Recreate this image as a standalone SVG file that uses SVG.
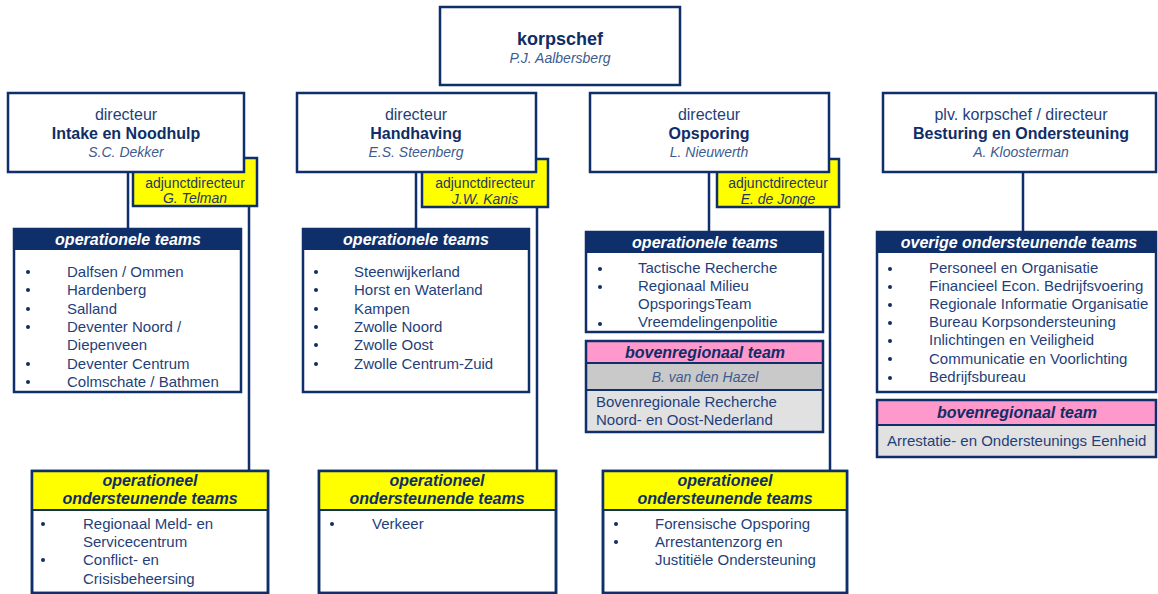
<svg xmlns="http://www.w3.org/2000/svg" width="1158" height="594" viewBox="0 0 1158 594">
<style>
text{font-family:"Liberation Sans",Arial,sans-serif}
.box{fill:#fff;stroke:#0e2f6a;stroke-width:2.5}
.frame{fill:none;stroke:#0e2f6a;stroke-width:2.5}
.yel{fill:#ffff00;stroke:#0e2f6a;stroke-width:2.5}
.hdr{fill:#0e2f6a}
.yhdr{fill:#ffff00}
.pink{fill:#ff99cc}
.g1{fill:#c9c9c9}
.g2{fill:#e1e1e1}
.sep{stroke:#0e2f6a;stroke-width:2}
.ln{stroke:#0e2f6a;stroke-width:2.5;fill:none}
.t{fill:#1f3f7a;font-size:16px;text-anchor:middle}
.b{fill:#0f2d66;font-size:16px;font-weight:bold;text-anchor:middle}
.nm{fill:#3d5b8f;font-size:14px;font-style:italic;text-anchor:middle}
.big{fill:#0f2d66;font-size:18px;font-weight:bold;text-anchor:middle}
.adj{fill:#27375e;font-size:14px;text-anchor:middle}
.adjn{fill:#27375e;font-size:14px;font-style:italic;text-anchor:middle}
.wh{fill:#fff;font-size:16px;font-weight:bold;font-style:italic;text-anchor:middle}
.yh{fill:#0f2d66;font-size:16px;font-weight:bold;font-style:italic;text-anchor:middle}
.li{fill:#1f3f7a;font-size:15px}
.dot{fill:#0f2d66}
</style>

<g id="connectors">
<line class="ln" x1="128" y1="172" x2="128" y2="229"/>
<line class="ln" x1="249" y1="206" x2="249" y2="471"/>
<line class="ln" x1="416" y1="172" x2="416" y2="229"/>
<line class="ln" x1="537" y1="207" x2="537" y2="471"/>
<line class="ln" x1="709" y1="172" x2="709" y2="232"/>
<line class="ln" x1="830" y1="207" x2="830" y2="471"/>
<line class="ln" x1="1023" y1="172" x2="1023" y2="232"/>
</g>

<g id="korpschef">
<rect class="box" x="440" y="7" width="240" height="78"/>
<text class="big" x="560" y="45">korpschef</text>
<text class="nm" x="560" y="63">P.J. Aalbersberg</text>
</g>

<g id="adjunct-intake">
<rect x="133" y="158" width="124" height="48" fill="#ffff00"/>
<text class="adj" x="195" y="188">adjunctdirecteur</text>
<text class="adjn" x="195" y="203">G. Telman</text>
<rect class="frame" x="133" y="158" width="124" height="48"/>
</g>
<g id="dir-intake">
<rect class="box" x="8" y="93" width="236" height="79"/>
<text class="t" x="126" y="120">directeur</text>
<text class="b" x="126" y="139">Intake en Noodhulp</text>
<text class="nm" x="126" y="157">S.C. Dekker</text>
</g>

<g id="adjunct-handhaving">
<rect x="422" y="159" width="126" height="48" fill="#ffff00"/>
<text class="adj" x="485" y="188">adjunctdirecteur</text>
<text class="adjn" x="485" y="204">J.W. Kanis</text>
<rect class="frame" x="422" y="159" width="126" height="48"/>
</g>
<g id="dir-handhaving">
<rect class="box" x="297" y="93" width="239" height="79"/>
<text class="t" x="416" y="120">directeur</text>
<text class="b" x="416" y="139">Handhaving</text>
<text class="nm" x="416" y="157">E.S. Steenberg</text>
</g>

<g id="adjunct-opsporing">
<rect x="717" y="159" width="122" height="48" fill="#ffff00"/>
<text class="adj" x="778" y="188">adjunctdirecteur</text>
<text class="adjn" x="778" y="204">E. de Jonge</text>
<rect class="frame" x="717" y="159" width="122" height="48"/>
</g>
<g id="dir-opsporing">
<rect class="box" x="590" y="93" width="239" height="79"/>
<text class="t" x="709" y="120">directeur</text>
<text class="b" x="709" y="139">Opsporing</text>
<text class="nm" x="709" y="157">L. Nieuwerth</text>
</g>

<g id="dir-besturing">
<rect class="box" x="883" y="93" width="273" height="79"/>
<text class="t" x="1021" y="120">plv. korpschef / directeur</text>
<text class="b" x="1021" y="139">Besturing en Ondersteuning</text>
<text class="nm" x="1021" y="157">A. Kloosterman</text>
</g>

<g id="op-intake">
<rect class="box" x="14" y="229" width="227" height="163"/>
<rect class="hdr" x="14" y="229" width="227" height="21"/>
<text class="wh" x="128" y="245">operationele teams</text>
<g class="dot"><circle cx="28" cy="272" r="2"/><circle cx="28" cy="290" r="2"/><circle cx="28" cy="309" r="2"/><circle cx="28" cy="327" r="2"/><circle cx="28" cy="364" r="2"/><circle cx="28" cy="382" r="2"/></g>
<text class="li" x="67" y="277">Dalfsen / Ommen</text>
<text class="li" x="67" y="295">Hardenberg</text>
<text class="li" x="67" y="314">Salland</text>
<text class="li" x="67" y="332">Deventer Noord /</text>
<text class="li" x="67" y="350">Diepenveen</text>
<text class="li" x="67" y="369">Deventer Centrum</text>
<text class="li" x="67" y="387">Colmschate / Bathmen</text>
</g>

<g id="op-handhaving">
<rect class="box" x="303" y="229" width="226" height="163"/>
<rect class="hdr" x="303" y="229" width="226" height="21"/>
<text class="wh" x="416" y="245">operationele teams</text>
<g class="dot"><circle cx="316" cy="272" r="2"/><circle cx="316" cy="290" r="2"/><circle cx="316" cy="309" r="2"/><circle cx="316" cy="327" r="2"/><circle cx="316" cy="345" r="2"/><circle cx="316" cy="364" r="2"/></g>
<text class="li" x="354" y="277">Steenwijkerland</text>
<text class="li" x="354" y="295">Horst en Waterland</text>
<text class="li" x="354" y="314">Kampen</text>
<text class="li" x="354" y="332">Zwolle Noord</text>
<text class="li" x="354" y="350">Zwolle Oost</text>
<text class="li" x="354" y="369">Zwolle Centrum-Zuid</text>
</g>

<g id="op-opsporing">
<rect class="box" x="586" y="232" width="237" height="100"/>
<rect class="hdr" x="586" y="232" width="237" height="21"/>
<text class="wh" x="705" y="248">operationele teams</text>
<g class="dot"><circle cx="600" cy="269" r="2"/><circle cx="600" cy="287" r="2"/><circle cx="600" cy="324" r="2"/></g>
<text class="li" x="638" y="273">Tactische Recherche</text>
<text class="li" x="638" y="291">Regionaal Milieu</text>
<text class="li" x="638" y="309">OpsporingsTeam</text>
<text class="li" x="638" y="327">Vreemdelingenpolitie</text>
</g>

<g id="boven-opsporing">
<rect class="pink" x="586" y="341" width="237" height="22"/>
<rect class="g1" x="586" y="363" width="237" height="27"/>
<rect class="g2" x="586" y="390" width="237" height="42"/>
<line class="sep" x1="586" y1="363" x2="823" y2="363"/>
<line class="sep" x1="586" y1="390" x2="823" y2="390"/>
<rect class="frame" x="586" y="341" width="237" height="91"/>
<text class="yh" x="705" y="358">bovenregionaal team</text>
<text class="nm" x="705" y="382">B. van den Hazel</text>
<text class="li" x="596" y="407">Bovenregionale Recherche</text>
<text class="li" x="596" y="425">Noord- en Oost-Nederland</text>
</g>

<g id="overige">
<rect class="box" x="877" y="232" width="279" height="160"/>
<rect class="hdr" x="877" y="232" width="279" height="21"/>
<text class="wh" x="1019" y="248">overige ondersteunende teams</text>
<g class="dot"><circle cx="890" cy="269" r="2"/><circle cx="890" cy="287" r="2"/><circle cx="890" cy="305" r="2"/><circle cx="890" cy="323" r="2"/><circle cx="890" cy="341" r="2"/><circle cx="890" cy="359" r="2"/><circle cx="890" cy="378" r="2"/></g>
<text class="li" x="929" y="273">Personeel en Organisatie</text>
<text class="li" x="929" y="291">Financieel Econ. Bedrijfsvoering</text>
<text class="li" x="929" y="309">Regionale Informatie Organisatie</text>
<text class="li" x="929" y="327">Bureau Korpsondersteuning</text>
<text class="li" x="929" y="345">Inlichtingen en Veiligheid</text>
<text class="li" x="929" y="364">Communicatie en Voorlichting</text>
<text class="li" x="929" y="382">Bedrijfsbureau</text>
</g>

<g id="boven-besturing">
<rect class="pink" x="877" y="400" width="279" height="25"/>
<rect class="g2" x="877" y="425" width="279" height="32"/>
<line class="sep" x1="877" y1="425" x2="1156" y2="425"/>
<rect class="frame" x="877" y="400" width="279" height="57"/>
<text class="yh" x="1017" y="418">bovenregionaal team</text>
<text class="li" x="887" y="446">Arrestatie- en Ondersteunings Eenheid</text>
</g>

<g id="ondersteunend-intake">
<rect class="box" x="32" y="471" width="236" height="122"/>
<rect class="yhdr" x="32" y="471" width="236" height="39"/>
<line class="sep" x1="32" y1="510" x2="268" y2="510"/>
<rect class="frame" x="32" y="471" width="236" height="122"/>
<text class="yh" x="150" y="486">operationeel</text>
<text class="yh" x="150" y="504">ondersteunende teams</text>
<g class="dot"><circle cx="43" cy="524" r="2"/><circle cx="43" cy="560" r="2"/></g>
<text class="li" x="83" y="529">Regionaal Meld- en</text>
<text class="li" x="83" y="547">Servicecentrum</text>
<text class="li" x="83" y="565">Conflict- en</text>
<text class="li" x="83" y="584">Crisisbeheersing</text>
</g>

<g id="ondersteunend-handhaving">
<rect class="box" x="319" y="471" width="237" height="122"/>
<rect class="yhdr" x="319" y="471" width="237" height="39"/>
<line class="sep" x1="319" y1="510" x2="556" y2="510"/>
<rect class="frame" x="319" y="471" width="237" height="122"/>
<text class="yh" x="437" y="486">operationeel</text>
<text class="yh" x="437" y="504">ondersteunende teams</text>
<circle class="dot" cx="332" cy="524" r="2"/>
<text class="li" x="372" y="529">Verkeer</text>
</g>

<g id="ondersteunend-opsporing">
<rect class="box" x="603" y="471" width="244" height="122"/>
<rect class="yhdr" x="603" y="471" width="244" height="39"/>
<line class="sep" x1="603" y1="510" x2="847" y2="510"/>
<rect class="frame" x="603" y="471" width="244" height="122"/>
<text class="yh" x="725" y="486">operationeel</text>
<text class="yh" x="725" y="504">ondersteunende teams</text>
<g class="dot"><circle cx="616" cy="524" r="2"/><circle cx="616" cy="542" r="2"/></g>
<text class="li" x="655" y="529">Forensische Opsporing</text>
<text class="li" x="655" y="547">Arrestantenzorg en</text>
<text class="li" x="655" y="565">Justitiële Ondersteuning</text>
</g>
</svg>
